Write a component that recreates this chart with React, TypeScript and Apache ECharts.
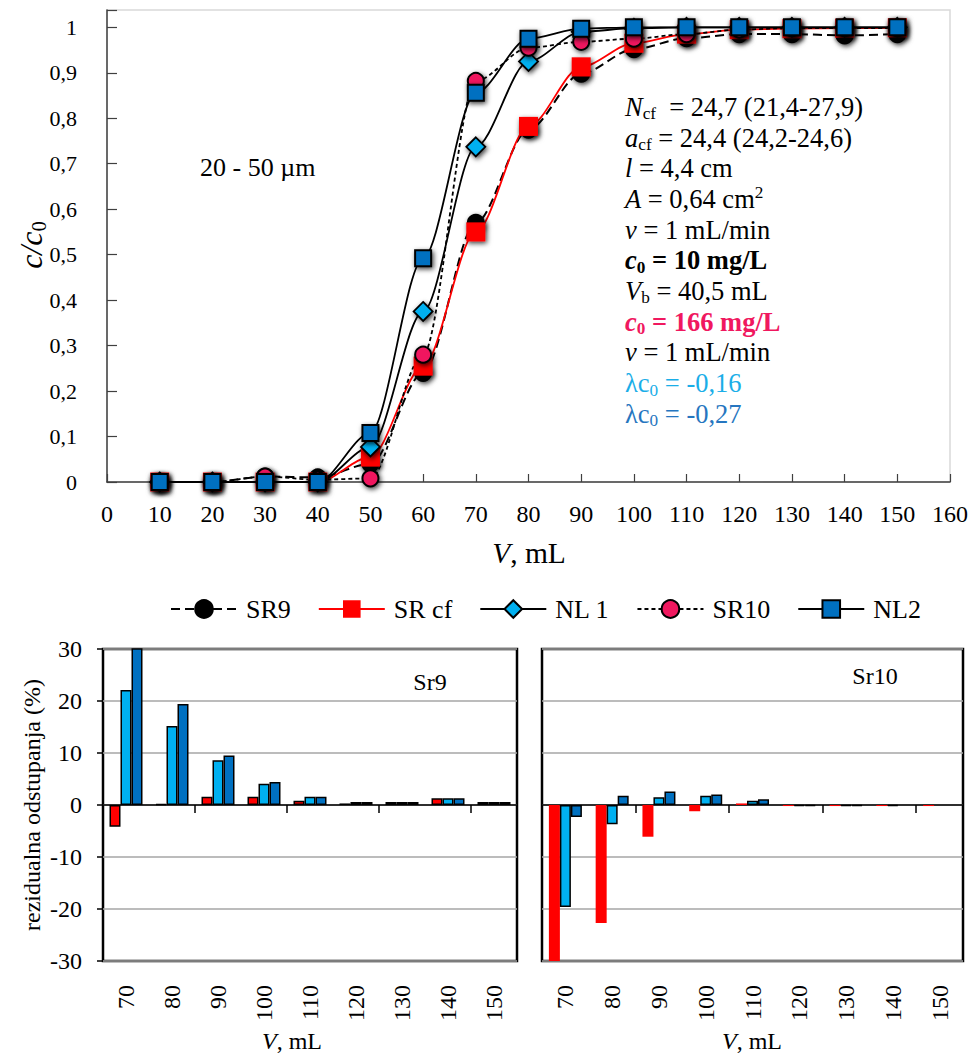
import React, { useEffect, useRef } from 'react';
import * as echarts from 'echarts';

// ---------- data ----------
const V = [10, 20, 30, 40, 50, 60, 70, 80, 90, 100, 110, 120, 130, 140, 150];
const SR9 = [0, 0, 0.012, 0.01, 0.04, 0.24, 0.57, 0.775, 0.898, 0.952, 0.976, 0.985, 0.985, 0.982, 0.985];
const SR_CF = [0, 0, 0, 0, 0.055, 0.255, 0.55, 0.782, 0.913, 0.965, 0.985, 0.995, 0.997, 0.998, 0.999];
const NL1 = [0, 0, 0, 0, 0.077, 0.375, 0.737, 0.925, 0.99, 0.998, 1, 1, 1, 1, 1];
const SR10 = [0, 0, 0.012, 0.005, 0.008, 0.28, 0.882, 0.955, 0.968, 0.975, 0.985, 0.995, 0.998, 0.998, 0.998];
const NL2 = [0, 0, 0, 0, 0.108, 0.492, 0.856, 0.975, 0.997, 1, 1, 1, 1, 1, 1];

const RES_CATS = ['70', '80', '90', '100', '110', '120', '130', '140', '150'];
const SR9_RES_SRCF = [-4.2, 0.2, 1.6, 1.6, 0.8, 0.3, 0.6, 1.3, 0.6];
const SR9_RES_NL1 = [22.1, 15.2, 8.6, 4.1, 1.6, 0.6, 0.6, 1.3, 0.6];
const SR9_RES_NL2 = [32, 19.4, 9.5, 4.4, 1.6, 0.6, 0.6, 1.3, 0.6];
const SR10_RES_SRCF = [-33, -22.7, -6.1, -1.2, 0.3, -0.2, -0.2, -0.2, -0.2];
const SR10_RES_NL1 = [-19.6, -3.7, 1.5, 1.8, 0.8, -0.2, -0.2, -0.2, null];
const SR10_RES_NL2 = [-2.3, 1.8, 2.6, 2.0, 1.1, -0.2, -0.2, null, null];

const LEGEND_NAMES = ['SR9', 'SR cf', 'NL 1', 'SR10', 'NL2'];
const Y_TOP_TICKS_MAX = 1;

// ---------- styling ----------
const FONT = 'Liberation Serif, serif';
const RED = '#ff0000';
const PINK = '#f0185f';
const LBLUE = '#00b0f0';
const DBLUE = '#0070c0';

const shadow = {
  shadowBlur: 5,
  shadowColor: 'rgba(0,0,0,0.75)',
  shadowOffsetX: 1.5,
  shadowOffsetY: 2,
};

function lineSeries(name: string, vals: number[], opts: any) {
  return {
    type: 'line',
    name,
    xAxisIndex: 0,
    yAxisIndex: 0,
    data: V.map((x, i) => [x, vals[i]]),
    smooth: 0.3,
    smoothMonotone: 'x',
    symbol: opts.symbol,
    symbolSize: opts.size,
    showAllSymbol: true,
    itemStyle: {
      color: opts.color,
      borderColor: opts.borderColor || '#000',
      borderWidth: opts.borderWidth ?? 2,
      ...shadow,
    },
    lineStyle: { color: opts.lineColor, type: opts.lineType, width: opts.lineWidth },
    emphasis: { disabled: true },
  };
}

function barSeries(name: string, vals: (number | null)[], color: string, xIdx: number, yIdx: number, border: boolean) {
  return {
    type: 'bar',
    name,
    xAxisIndex: xIdx,
    yAxisIndex: yIdx,
    data: vals,
    barWidth: 11,
    barGap: '0%',
    clip: true,
    itemStyle: {
      color,
      borderColor: '#000',
      borderWidth: border ? 1.5 : 0,
    },
    emphasis: { disabled: true },
  };
}

const fmtComma = (v: number) => String(Math.round(v * 10) / 10).replace('.', ',');

const RICH_BASE = (size: number, lh: number) => ({
  n: { fontSize: size, fontFamily: FONT, fill: '#000', lineHeight: lh },
  i: { fontSize: size, fontFamily: FONT, fontStyle: 'italic', fill: '#000', lineHeight: lh },
  s: { fontSize: size * 0.65, fontFamily: FONT, fill: '#000', lineHeight: lh * 0.52, verticalAlign: 'bottom' },
  u: { fontSize: size * 0.65, fontFamily: FONT, fill: '#000', lineHeight: lh * 0.66, verticalAlign: 'top' },
  b: { fontSize: size, fontFamily: FONT, fontWeight: 'bold', fill: '#000', lineHeight: lh },
  bi: { fontSize: size, fontFamily: FONT, fontWeight: 'bold', fontStyle: 'italic', fill: '#000', lineHeight: lh },
  bs: { fontSize: size * 0.65, fontFamily: FONT, fontWeight: 'bold', fill: '#000', lineHeight: lh * 0.52, verticalAlign: 'bottom' },
  pb: { fontSize: size, fontFamily: FONT, fontWeight: 'bold', fill: PINK, lineHeight: lh },
  pbi: { fontSize: size, fontFamily: FONT, fontWeight: 'bold', fontStyle: 'italic', fill: PINK, lineHeight: lh },
  pbs: { fontSize: size * 0.65, fontFamily: FONT, fontWeight: 'bold', fill: PINK, lineHeight: lh * 0.52, verticalAlign: 'bottom' },
  l: { fontSize: size, fontFamily: FONT, fill: '#1aaee8', lineHeight: lh },
  ls: { fontSize: size * 0.65, fontFamily: FONT, fill: '#1aaee8', lineHeight: lh * 0.52, verticalAlign: 'bottom' },
  d: { fontSize: size, fontFamily: FONT, fill: '#2676c0', lineHeight: lh },
  ds: { fontSize: size * 0.65, fontFamily: FONT, fill: '#2676c0', lineHeight: lh * 0.52, verticalAlign: 'bottom' },
});

const ANNOTATION = [
  '{i|N}{s|cf}{n|  = 24,7 (21,4-27,9)}',
  '{i|a}{s|cf}{n| = 24,4 (24,2-24,6)}',
  '{i|l}{n| = 4,4 cm}',
  '{i|A}{n| = 0,64 cm}{u|2}',
  '{i|v}{n| = 1 mL/min}',
  '{bi|c}{bs|0}{b| = 10 mg/L}',
  '{i|V}{s|b}{n| = 40,5 mL}',
  '{pbi|c}{pbs|0}{pb| = 166 mg/L}',
  '{i|v}{n| = 1 mL/min}',
  '{l|λc}{ls|0}{l| = -0,16}',
  '{d|λc}{ds|0}{d| = -0,27}',
].join('\n');

export default function App() {
  const ref = useRef<HTMLDivElement>(null);

  useEffect(() => {
    document.body.style.margin = '0';
    const chart = echarts.init(ref.current!, null, { renderer: 'svg' });

    const catAxisLabels = (grid: number) => ({
      type: 'category',
      gridIndex: grid,
      data: RES_CATS,
      position: 'bottom',
      axisLine: { show: false, onZero: false },
      axisTick: { show: false },
      axisLabel: { rotate: 90, fontSize: 24, color: '#000', fontFamily: FONT, margin: 24 },
      splitLine: { show: false },
    });
    const catAxisZero = (grid: number) => ({
      type: 'category',
      gridIndex: grid,
      data: RES_CATS,
      position: 'bottom',
      axisLine: { show: true, onZero: true, lineStyle: { color: '#000', width: 1.5 } },
      axisTick: { show: true, interval: 1, length: 8, lineStyle: { color: '#000', width: 1.5 } },
      axisLabel: { show: false },
      splitLine: { show: false },
    });

    const option: any = {
      animation: false,
      textStyle: { fontFamily: FONT },
      legend: {
        data: LEGEND_NAMES,
        left: 165,
        top: 591,
        itemWidth: 66,
        itemHeight: 22,
        itemGap: 27,
        textStyle: { fontSize: 26, color: '#000', fontFamily: FONT, padding: [0, 0, 0, 4] },
      },
      grid: [
        { left: 107, top: 10, width: 843, height: 472, show: true, borderColor: '#d9d9d9', borderWidth: 1.5 },
        { left: 103, top: 649, width: 414, height: 312, show: true, borderColor: '#000', borderWidth: 2.5 },
        { left: 542, top: 649, width: 421, height: 312, show: true, borderColor: '#000', borderWidth: 2.5 },
      ],
      xAxis: [
        {
          type: 'value',
          gridIndex: 0,
          min: 0,
          max: 160,
          interval: 10,
          axisLine: { show: true, onZero: false, lineStyle: { color: '#404040', width: 1.5 } },
          axisTick: { show: true, inside: true, length: 8, lineStyle: { color: '#404040', width: 1.2 } },
          axisLabel: { fontSize: 24, color: '#000', fontFamily: FONT, margin: 20 },
          splitLine: { show: false },
        },
        catAxisLabels(1),
        catAxisZero(1),
        catAxisLabels(2),
        catAxisZero(2),
      ],
      yAxis: [
        {
          type: 'value',
          gridIndex: 0,
          min: 0,
          max: 1.038,
          interval: 0.1,
          axisLine: { show: true, lineStyle: { color: '#404040', width: 1.5 } },
          axisTick: { show: true, inside: true, length: 10, lineStyle: { color: '#404040', width: 1.2 } },
          axisLabel: {
            fontSize: 22,
            color: '#000',
            fontFamily: FONT,
            margin: 30,
            formatter: (v: number) => (v > Y_TOP_TICKS_MAX + 0.0001 ? '' : fmtComma(v)),
          },
          splitLine: { show: false },
        },
        {
          type: 'value',
          gridIndex: 1,
          min: -30,
          max: 30,
          interval: 10,
          axisLine: { show: false },
          axisTick: { show: true, length: 6, lineStyle: { color: '#000', width: 1.5 } },
          axisLabel: { fontSize: 24, color: '#000', fontFamily: FONT, margin: 21 },
          splitLine: { show: true, lineStyle: { color: '#a6a6a6', width: 1.5 } },
        },
        {
          type: 'value',
          gridIndex: 2,
          min: -30,
          max: 30,
          interval: 10,
          axisLine: { show: false },
          axisTick: { show: false },
          axisLabel: { show: false },
          splitLine: { show: true, lineStyle: { color: '#a6a6a6', width: 1.5 } },
        },
      ],
      series: [
        lineSeries('SR9', SR9, { symbol: 'circle', size: 16, color: '#000', lineColor: '#000', lineType: [9, 5], lineWidth: 2 }),
        lineSeries('SR cf', SR_CF, { symbol: 'rect', size: 19, color: RED, borderWidth: 0, lineColor: RED, lineType: 'solid', lineWidth: 1.8 }),
        lineSeries('NL 1', NL1, { symbol: 'diamond', size: 19, color: LBLUE, borderWidth: 1.8, lineColor: '#000', lineType: 'solid', lineWidth: 1.8 }),
        lineSeries('SR10', SR10, { symbol: 'circle', size: 16, color: PINK, borderWidth: 2, lineColor: '#000', lineType: [4, 3], lineWidth: 1.8 }),
        lineSeries('NL2', NL2, { symbol: 'rect', size: 16, color: DBLUE, borderWidth: 2, lineColor: '#000', lineType: 'solid', lineWidth: 1.8 }),
        barSeries('Sr9 SR cf', SR9_RES_SRCF, RED, 1, 1, true),
        barSeries('Sr9 NL 1', SR9_RES_NL1, LBLUE, 1, 1, true),
        barSeries('Sr9 NL2', SR9_RES_NL2, DBLUE, 1, 1, true),
        barSeries('Sr10 SR cf', SR10_RES_SRCF, RED, 3, 2, false),
        barSeries('Sr10 NL 1', SR10_RES_NL1, LBLUE, 3, 2, true),
        barSeries('Sr10 NL2', SR10_RES_NL2, DBLUE, 3, 2, true),
      ],
      graphic: [
        {
          type: 'text',
          x: 200,
          y: 167,
          style: { text: '20 - 50 µm', fontSize: 26, fontFamily: FONT, fill: '#000', verticalAlign: 'middle' },
        },
        {
          type: 'text',
          x: 625,
          y: 91.5,
          style: { text: ANNOTATION, rich: RICH_BASE(26.5, 30.7), verticalAlign: 'top', align: 'left' },
        },
        {
          type: 'text',
          x: 31,
          y: 245,
          rotation: Math.PI / 2,
          style: { text: '{i|c/c}{s|0}', rich: RICH_BASE(32, 36), align: 'center', verticalAlign: 'middle' },
        },
        {
          type: 'text',
          x: 529,
          y: 553,
          style: { text: '{i|V}{n|, mL}', rich: RICH_BASE(29.5, 34), align: 'center', verticalAlign: 'middle' },
        },
        {
          type: 'text',
          x: 32,
          y: 805,
          rotation: Math.PI / 2,
          style: { text: 'rezidualna odstupanja (%)', fontSize: 24, fontFamily: FONT, fill: '#000', align: 'center', verticalAlign: 'middle' },
        },
        {
          type: 'text',
          x: 430,
          y: 682,
          style: { text: 'Sr9', fontSize: 24, fontFamily: FONT, fill: '#000', align: 'center', verticalAlign: 'middle' },
        },
        {
          type: 'text',
          x: 875,
          y: 676,
          style: { text: 'Sr10', fontSize: 24, fontFamily: FONT, fill: '#000', align: 'center', verticalAlign: 'middle' },
        },
        {
          type: 'text',
          x: 292,
          y: 1041,
          style: { text: '{i|V}{n|, mL}', rich: RICH_BASE(24, 28), align: 'center', verticalAlign: 'middle' },
        },
        {
          type: 'text',
          x: 752,
          y: 1041,
          style: { text: '{i|V}{n|, mL}', rich: RICH_BASE(24, 28), align: 'center', verticalAlign: 'middle' },
        },
      ],
    };

    chart.setOption(option);
    return () => chart.dispose();
  }, []);

  return <div ref={ref} style={{ width: 971, height: 1055 }} />;
}
